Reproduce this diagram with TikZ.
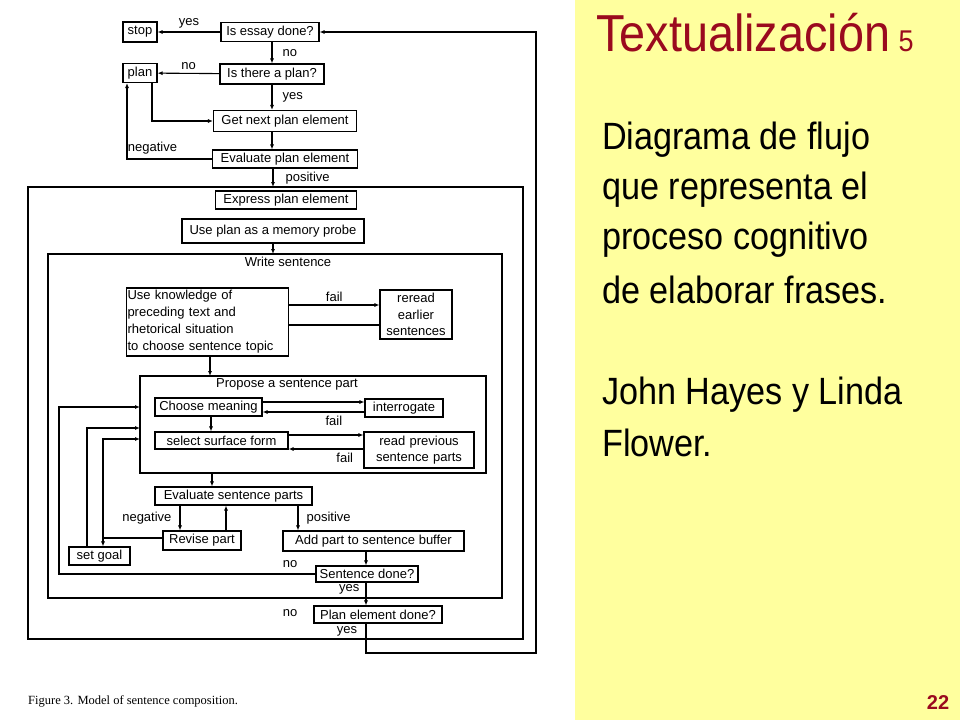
\documentclass[tikz,border=0pt]{standalone}
\usepackage{fontspec}
\setmainfont{Liberation Sans}
\newfontfamily\capfont{Liberation Serif}
\newfontfamily\slidefont[FakeStretch=0.9]{Liberation Sans}
\usetikzlibrary{arrows.meta,positioning}
\definecolor{slideyellow}{HTML}{FFFF9E}
\definecolor{titlered}{HTML}{9A0A1E}
\tikzset{
  box/.style={draw, line width=1.1pt, inner sep=1pt, font=\fontsize{13}{15}\selectfont, anchor=center},
  lbl/.style={font=\fontsize{13}{15}\selectfont, inner sep=0pt},
  flow/.style={line width=1.1pt, -{Latex[length=5pt,width=4pt]}},
  line/.style={line width=1.1pt},
  slidetext/.style={anchor=west, font=\slidefont\fontsize{38}{44}\selectfont, inner sep=0pt}
}
\begin{document}
\begin{tikzpicture}[x=1pt,y=-1pt]
\useasboundingbox (0,0) rectangle (960,720);
\fill[white] (0,0) rectangle (575,720);
\fill[slideyellow] (575,0) rectangle (960,720);

% Slide texts
\node[slidetext, text=titlered, font=\slidefont\fontsize{52}{58}\selectfont] (title) at (596,33) {Textualización};
\node[anchor=base west, text=titlered, font=\slidefont\fontsize{30}{34}\selectfont, inner sep=0pt] (num) at ([xshift=8pt]title.base east) {5};
\node[slidetext] (t1) at (602,140) {Diagrama de flujo};
\node[slidetext] (t2) at (602,190) {que representa el};
\node[slidetext] (t3) at (602,240) {proceso cognitivo};
\node[slidetext] (t4) at (602,290) {de elaborar frases.};
\node[slidetext] (t5) at (602,395) {John Hayes y Linda};
\node[slidetext] (t6) at (602,443) {Flower.};
\node[text=titlered, font=\fontsize{20}{24}\selectfont\bfseries, inner sep=0pt] (page) at (938,703) {22};
\node[anchor=west, font=\capfont\fontsize{12.5}{14}\selectfont, inner sep=0pt] (caption) at (28,701) {Figure 3. Model of sentence composition.};

% Enclosing boxes
\draw[line] (28,187) rectangle (523,639);
\draw[line] (48,254) rectangle (502,598);
\draw[line] (140,376) rectangle (486,473);
\node[lbl] (write) at (288,262) {Write sentence};
\node[lbl] (propose) at (287,384) {Propose a sentence part};

% Boxes
\node[box, minimum width=34pt, minimum height=20pt] (stop) at (140,32) {stop};
\node[box, minimum width=98pt, minimum height=19pt] (essay) at (270,32) {Is essay done?};
\node[box, minimum width=34pt, minimum height=19pt] (plan) at (140,73) {plan};
\node[box, minimum width=104pt, minimum height=20pt] (isplan) at (272,74) {Is there a plan?};
\node[box, minimum width=143pt, minimum height=21pt] (getnext) at (285,121) {Get next plan element};
\node[box, minimum width=145pt, minimum height=18pt] (evalplan) at (285,159) {Evaluate plan element};
\node[box, minimum width=141pt, minimum height=18pt] (express) at (286,200) {Express plan element};
\node[box, minimum width=182pt, minimum height=24pt] (probe) at (273,231) {Use plan as a memory probe};
\node[box, text width=160pt, minimum height=68pt, align=left, font=\fontsize{13}{17}\selectfont] (knowledge) at (207.5,322) {Use knowledge of\\preceding text and\\rhetorical situation\\to choose sentence topic};
\node[box, text width=70pt, minimum height=49pt, align=center, font=\fontsize{13}{16.5}\selectfont] (reread) at (416,314.5) {reread\\earlier\\sentences};
\node[box, minimum width=107pt, minimum height=18pt] (meaning) at (208.5,407) {Choose meaning};
\node[box, minimum width=78pt, minimum height=18pt] (interrogate) at (404,408) {interrogate};
\node[box, minimum width=133pt, minimum height=17pt] (surface) at (221.5,440.5) {select surface form};
\node[box, text width=108pt, minimum height=36pt, align=center, font=\fontsize{13}{16}\selectfont] (readprev) at (419,450) {read previous\\sentence parts};
\node[box, minimum width=157pt, minimum height=18pt] (evalsent) at (233.5,496) {Evaluate sentence parts};
\node[box, minimum width=78pt, minimum height=19pt] (revise) at (202,540.5) {Revise part};
\node[box, minimum width=181pt, minimum height=20pt] (addpart) at (373.5,541) {Add part to sentence buffer};
\node[box, minimum width=61pt, minimum height=18pt] (setgoal) at (99.5,556) {set goal};
\node[box, minimum width=102pt, minimum height=16pt] (sentdone) at (367,574) {Sentence done?};
\node[box, minimum width=128pt, minimum height=17pt] (elemdone) at (378,614.5) {Plan element done?};

% Top of the chart
\draw[flow] (essay) -- (stop) node[lbl, midway, above=3pt] {yes};
\draw[flow] (essay.south -| 272,0) -- (isplan.north -| 272,0) node[lbl, midway, right=10pt] {no};
\draw[flow] (isplan) -- (plan) node[lbl, midway, above=3pt] {no};
\draw[flow] (isplan.south -| 272,0) -- (getnext.north -| 272,0) node[lbl, midway, right=10pt] {yes};
\draw[flow] (plan.south -| 152,0) |- (getnext.west);
\draw[flow] (getnext.south -| 272,0) -- (evalplan.north -| 272,0);
\draw[flow] (evalplan.west) -| (plan.south -| 127,0) node[lbl, pos=0.35, above=4pt] {negative};
\draw[flow] (evalplan.south -| 273,0) -- (273,187) node[lbl, midway, right=12pt] {positive};
\draw[flow] (probe.south -| 273,0) -- (273,254);

% Sentence topic
\draw[flow] (knowledge.east |- 0,305) -- (reread.west |- 0,305) node[lbl, midway, above=3pt] {fail};
\draw[line] (reread.west |- 0,325) -- (knowledge.east |- 0,325);
\draw[flow] (knowledge.south -| 210,0) -- (210,376);

% Sentence part
\draw[flow] (meaning.east |- 0,402) -- (interrogate.west |- 0,402);
\draw[flow] (interrogate.west |- 0,412) -- (meaning.east |- 0,412) node[lbl, pos=0.3, below=4pt] {fail};
\draw[flow] (meaning.south -| 211,0) -- (surface.north -| 211,0);
\draw[flow] (surface.east |- 0,435) -- (readprev.west |- 0,435);
\draw[flow] (readprev.west |- 0,449) -- (surface.east |- 0,449) node[lbl, pos=0.25, below=4pt] {fail};
\draw[flow] (212,473) -- (evalsent.north -| 212,0);

% Evaluation
\draw[flow] (evalsent.south -| 180,0) -- (revise.north -| 180,0) node[lbl, midway, left=8pt] {negative};
\draw[flow] (revise.north -| 226,0) -- (evalsent.south -| 226,0);
\draw[flow] (evalsent.south -| 298,0) -- (addpart.north -| 298,0) node[lbl, midway, right=8pt] {positive};
\draw[flow] (revise.west |- 0,538) -| (setgoal.north -| 103,0);
\draw[flow] (103,538) |- (140,439);
\draw[flow] (setgoal.north -| 87,0) |- (140,428);
\draw[flow] (addpart.south -| 366,0) -- (sentdone.north -| 366,0);
\draw[flow] (sentdone.west) -| (59,407) -- (140,407);
\node[lbl] (sno) at (290,564) {no};
\draw[flow] (sentdone.south -| 366,0) -- (elemdone.north -| 366,0) node[lbl, pos=0.3, left=6pt] {yes};
\node[lbl] (eno) at (290,613) {no};
\node[lbl] (eyes) at (347,631) {yes};
\draw[flow] (elemdone.south -| 366,0) |- (536,653) |- (essay.east);
\end{tikzpicture}
\end{document}
